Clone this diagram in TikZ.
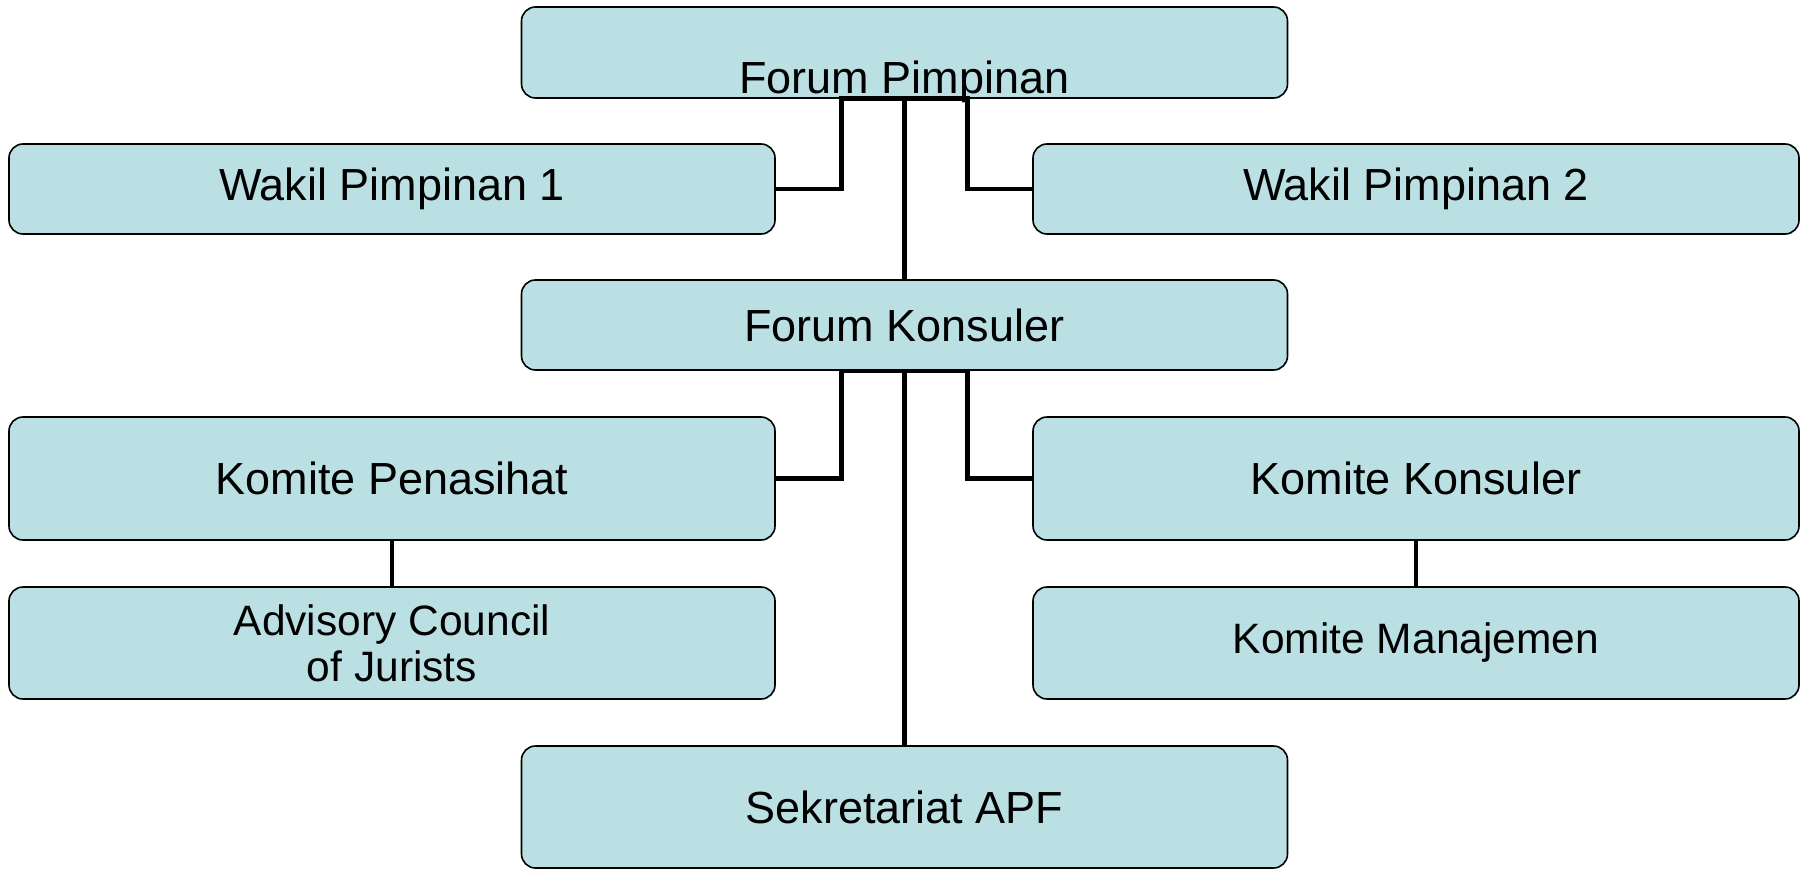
\documentclass[tikz,border=0pt]{standalone}
\usepackage{fontspec}
\setmainfont{Liberation Sans}
\usetikzlibrary{calc}
\definecolor{boxfill}{HTML}{BBE0E3}
\begin{document}
\begin{tikzpicture}[x=1pt,y=-1pt,
  box/.style={draw=black, line width=1.6pt, fill=boxfill, rounded corners=14pt,
    minimum width=766pt, inner sep=0pt, align=center,
    font=\fontsize{45}{50}\selectfont},
  smalltxt/.style={font=\fontsize{42.5}{46}\selectfont},
  conn/.style={draw=black, line width=4.6pt}]
\useasboundingbox (0,0) rectangle (1806,869);
% boxes
\node[box, minimum height=91pt] (fp) at (904.5,52.5) {};
\node[font=\fontsize{45}{50}\selectfont, inner sep=0pt] (fpt) at (904.5,82) {Forum Pimpinan};
\node[box, minimum height=90pt] (wp1) at (392,189) {Wakil Pimpinan 1};
\node[box, minimum height=90pt] (wp2) at (1416,189) {Wakil Pimpinan 2};
\node[box, minimum height=90pt] (fk) at (904.5,325) {Forum Konsuler};
\node[box, minimum height=123pt] (kp) at (392,478.5) {Komite Penasihat};
\node[box, minimum height=123pt] (kk) at (1416,478.5) {Komite Konsuler};
\node[box, smalltxt, minimum height=112pt] (acj) at (392,643) {Advisory Council\\of Jurists};
\node[box, smalltxt, minimum height=112pt] (km) at (1416,643) {Komite Manajemen};
\node[box, minimum height=122pt] (sek) at (904.5,807) {Sekretariat APF};
% connectors
\draw[conn] (wp1.east) -| ($(fp.south)+(-63,0)$) -- ($(fp.south)+(63,0)$) |- (wp2.west);
\draw[conn] (fp.south) -- (fk.north);
\draw[conn] (kp.east) -| ($(fk.south)+(-63,0)$) -- ($(fk.south)+(63,0)$) |- (kk.west);
\draw[conn] (fk.south) -- (sek.north);
\draw[conn] (kp.south) -- (acj.north);
\draw[conn] (kk.south) -- (km.north);
\end{tikzpicture}
\end{document}
